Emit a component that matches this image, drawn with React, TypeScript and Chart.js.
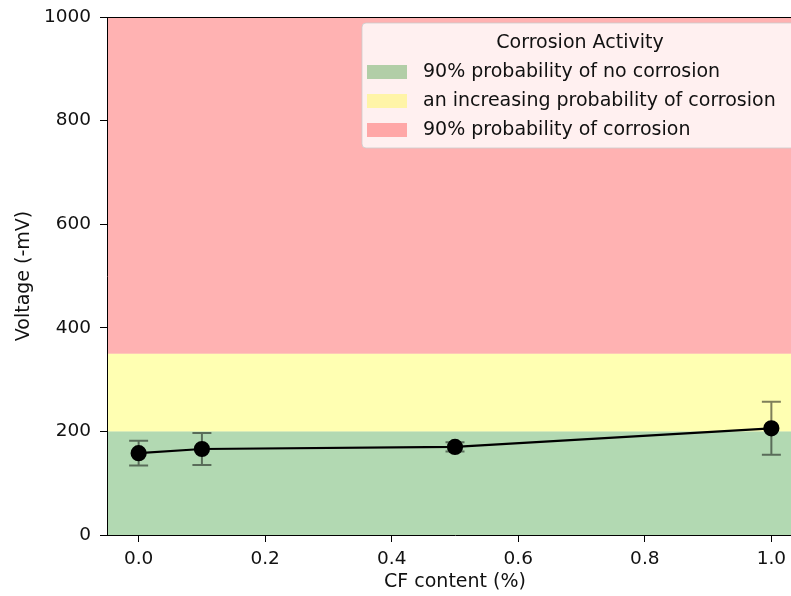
import React, { useEffect, useRef } from "react";
import { Chart, registerables } from "chart.js";

Chart.register(...registerables);

const cfContent = [0.0, 0.1, 0.5, 1.0];
const voltage = [158, 166, 170, 206];
const voltageErr = [24, 31, 9, 51];

const xTicks = [0.0, 0.2, 0.4, 0.6, 0.8, 1.0];
const yTicks = [0, 200, 400, 600, 800, 1000];

const bandLows = [0, 200, 350];
const bandHighs = [200, 350, 1000];
const bandColors = ["rgba(0,128,0,0.3)", "rgba(255,255,0,0.3)", "rgba(255,0,0,0.3)"];
const legendLabels = [
  "90% probability of no corrosion",
  "an increasing probability of corrosion",
  "90% probability of corrosion",
];
const legendTitle = "Corrosion Activity";

const FONT = "'DejaVu Sans', sans-serif";

const bandsPlugin = {
  id: "bands",
  beforeDraw(chart: any) {
    const { ctx, chartArea, scales } = chart;
    const y = scales.y;
    ctx.save();
    for (let i = 0; i < bandLows.length; i++) {
      const top = y.getPixelForValue(bandHighs[i]);
      const bot = y.getPixelForValue(bandLows[i]);
      ctx.fillStyle = bandColors[i];
      ctx.fillRect(chartArea.left, top, chartArea.right - chartArea.left, bot - top);
    }
    ctx.restore();
  },
};

const errorBarsPlugin = {
  id: "errorBars",
  beforeDatasetsDraw(chart: any) {
    const { ctx, scales } = chart;
    const x = scales.x;
    const y = scales.y;
    ctx.save();
    ctx.strokeStyle = "rgba(0,0,0,0.5)";
    ctx.lineWidth = 2;
    const cap = 9.5;
    for (let i = 0; i < cfContent.length; i++) {
      const px = x.getPixelForValue(cfContent[i]);
      const yTop = y.getPixelForValue(voltage[i] + voltageErr[i]);
      const yBot = y.getPixelForValue(voltage[i] - voltageErr[i]);
      ctx.beginPath();
      ctx.moveTo(px, yTop);
      ctx.lineTo(px, yBot);
      ctx.moveTo(px - cap, yTop);
      ctx.lineTo(px + cap, yTop);
      ctx.moveTo(px - cap, yBot);
      ctx.lineTo(px + cap, yBot);
      ctx.stroke();
    }
    ctx.restore();
  },
};

function roundRect(ctx: CanvasRenderingContext2D, x: number, y: number, w: number, h: number, r: number) {
  ctx.beginPath();
  ctx.moveTo(x + r, y);
  ctx.lineTo(x + w - r, y);
  ctx.quadraticCurveTo(x + w, y, x + w, y + r);
  ctx.lineTo(x + w, y + h - r);
  ctx.quadraticCurveTo(x + w, y + h, x + w - r, y + h);
  ctx.lineTo(x + r, y + h);
  ctx.quadraticCurveTo(x, y + h, x, y + h - r);
  ctx.lineTo(x, y + r);
  ctx.quadraticCurveTo(x, y, x + r, y);
  ctx.closePath();
}

const framePlugin = {
  id: "frameAndLegend",
  afterDraw(chart: any) {
    const { ctx, chartArea } = chart;
    ctx.save();
    ctx.strokeStyle = "#000";
    ctx.lineWidth = 1;
    ctx.beginPath();
    ctx.moveTo(chartArea.left, chartArea.top + 0.5);
    ctx.lineTo(chartArea.right, chartArea.top + 0.5);
    ctx.moveTo(chartArea.right - 0.5, chartArea.top);
    ctx.lineTo(chartArea.right - 0.5, chartArea.bottom);
    ctx.stroke();

    const lx = 362;
    const ly = 23;
    const lw = 436;
    const lh = 125;
    roundRect(ctx, lx, ly, lw, lh, 4);
    ctx.fillStyle = "rgba(255,255,255,0.8)";
    ctx.fill();
    ctx.strokeStyle = "rgba(204,204,204,0.8)";
    ctx.lineWidth = 1;
    ctx.stroke();

    ctx.fillStyle = "#111";
    ctx.font = `19px ${FONT}`;
    ctx.textBaseline = "middle";
    ctx.textAlign = "center";
    ctx.fillText(legendTitle, lx + lw / 2, 43);
    ctx.textAlign = "left";
    const rows = [72, 101, 130];
    for (let i = 0; i < legendLabels.length; i++) {
      ctx.fillStyle = bandColors[i];
      ctx.fillRect(367, rows[i] - 7, 40, 14);
      ctx.fillStyle = "#111";
      ctx.fillText(legendLabels[i], 423, rows[i]);
    }
    ctx.restore();
  },
};

export default function App() {
  const ref = useRef<HTMLCanvasElement | null>(null);

  useEffect(() => {
    if (!ref.current) return;
    const chart = new Chart(ref.current, {
      type: "line",
      data: {
        datasets: [
          {
            data: cfContent.map((c, i) => ({ x: c, y: voltage[i] })),
            borderColor: "#000",
            backgroundColor: "#000",
            borderWidth: 2.2,
            pointRadius: 7,
            pointBackgroundColor: "#000",
            pointBorderColor: "#000",
            tension: 0,
          },
        ],
      },
      options: {
        responsive: false,
        animation: false,
        devicePixelRatio: 1,
        layout: { padding: { top: 17, right: 17, left: 0, bottom: 0 } },
        plugins: { legend: { display: false }, tooltip: { enabled: false } },
        scales: {
          x: {
            type: "linear",
            min: -0.05,
            max: 1.05,
            afterBuildTicks: (s: any) => {
              s.ticks = xTicks.map((v) => ({ value: v }));
            },
            afterFit: (s: any) => {
              s.height = 61;
              s.paddingLeft = 0;
              s.paddingRight = 0;
            },
            ticks: {
              callback: (v: any) => Number(v).toFixed(1),
              font: { family: FONT, size: 18.5 },
              color: "#111",
              padding: 6,
              maxRotation: 0,
              autoSkip: false,
            },
            grid: { drawOnChartArea: false, drawTicks: true, tickLength: 7, color: "#000", tickWidth: 1 },
            border: { display: true, color: "#000", width: 1 },
            title: {
              display: true,
              text: "CF content (%)",
              font: { family: FONT, size: 19 },
              color: "#111",
              padding: { top: 0, bottom: 3 },
            },
          },
          y: {
            type: "linear",
            min: 0,
            max: 1000,
            afterBuildTicks: (s: any) => {
              s.ticks = yTicks.map((v) => ({ value: v }));
            },
            afterFit: (s: any) => {
              s.width = 107;
              s.paddingTop = 0;
              s.paddingBottom = 0;
            },
            ticks: {
              callback: (v: any) => String(v),
              font: { family: FONT, size: 18.5 },
              color: "#111",
              padding: 9,
              autoSkip: false,
            },
            grid: { drawOnChartArea: false, drawTicks: true, tickLength: 7, color: "#000", tickWidth: 1 },
            border: { display: true, color: "#000", width: 1 },
            title: {
              display: true,
              text: "Voltage (-mV)",
              font: { family: FONT, size: 19 },
              color: "#111",
              padding: { top: 13, bottom: 0 },
            },
          },
        },
      },
      plugins: [bandsPlugin, errorBarsPlugin, framePlugin],
    } as any);
    return () => chart.destroy();
  }, []);

  return (
    <div
      style={{
        position: "fixed",
        left: 0,
        top: 0,
        width: 791,
        height: 596,
        overflow: "hidden",
        background: "#fff",
      }}
    >
      <canvas ref={ref} width={820} height={596} style={{ display: "block" }} />
    </div>
  );
}
